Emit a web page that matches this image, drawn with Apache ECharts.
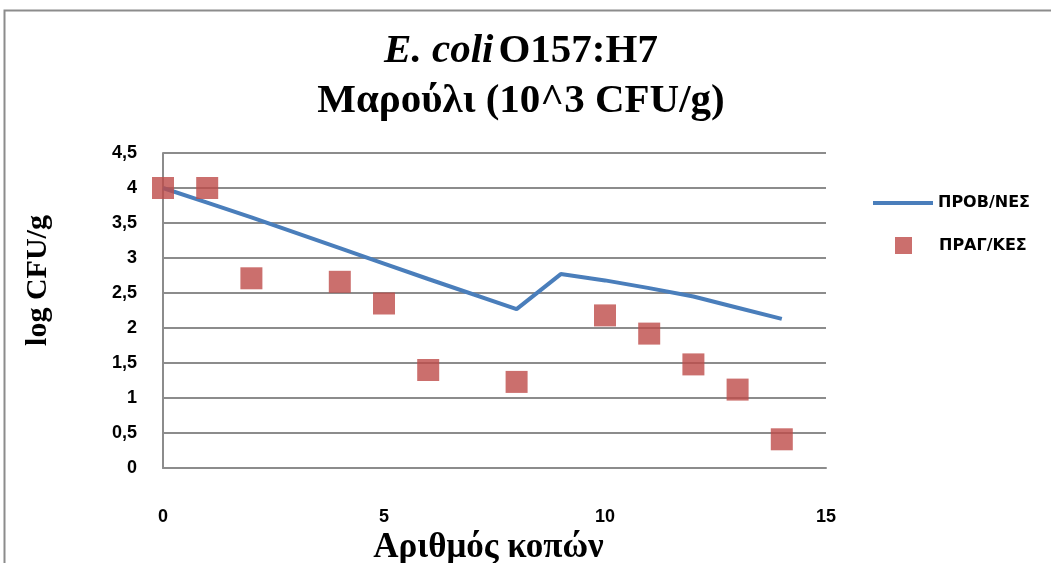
<!DOCTYPE html>
<html>
<head>
<meta charset="utf-8">
<script src="https://cdn.jsdelivr.net/npm/echarts@6/dist/echarts.min.js"></script>
<style>
  html, body { margin: 0; padding: 0; background: #fff; }
  #main { width: 1051px; height: 563px; }
</style>
</head>
<body>
<div id="main"></div>
<script>
// predicted values (line)
var predX = [0, 1, 2, 4, 5, 6, 8, 9, 10, 11, 12, 13, 14];
var predY = [4.0, 3.79, 3.58, 3.14, 2.92, 2.70, 2.27, 2.77, 2.68, 2.57, 2.45, 2.29, 2.13];
// observed values (squares)
var obsX = [0, 1, 2, 4, 5, 6, 8, 10, 11, 12, 13, 14];
var obsY = [4.0, 4.0, 2.71, 2.66, 2.35, 1.40, 1.23, 2.18, 1.92, 1.48, 1.12, 0.41];
var seriesNames = ['ΠΡΟΒ/ΝΕΣ', 'ΠΡΑΓ/ΚΕΣ'];

function pairs(xs, ys) {
    var out = [];
    for (var i = 0; i < xs.length; i++) out.push([xs[i], ys[i]]);
    return out;
}

var myChart = echarts.init(document.getElementById('main'));
var tickFont = { fontFamily: 'Liberation Sans', fontWeight: 'bold', fontSize: 18, color: '#000' };
var legendFont = { fontFamily: 'DejaVu Sans', fontWeight: 'bold', fontSize: 16, color: '#000' };

var option = {
    backgroundColor: '#fff',
    animation: false,
    graphic: [{
        type: 'rect',
        shape: { x: 4.5, y: 10.5, width: 1100, height: 600 },
        style: { fill: 'none', stroke: '#8c8c8c', lineWidth: 2 }
    }],
    title: {
        left: 516,
        textAlign: 'center',
        top: 21,
        text: '{i|E. coli} {n|O157:H7}\n{n|Μαρούλι (10^3 CFU/g)}',
        textStyle: {
            rich: {
                i: { fontFamily: 'Liberation Serif', fontStyle: 'italic', fontWeight: 'bold', fontSize: 41, color: '#000', lineHeight: 50 },
                n: { fontFamily: 'Liberation Serif', fontWeight: 'bold', fontSize: 41, color: '#000', lineHeight: 50 }
            }
        }
    },
    legend: [{
        data: [{ name: seriesNames[0], icon: 'rect' }],
        left: 868,
        top: 190,
        itemWidth: 60,
        itemHeight: 4,
        textStyle: legendFont
    }, {
        data: [{ name: seriesNames[1], icon: 'rect' }],
        left: 890,
        top: 232,
        itemWidth: 17,
        itemHeight: 17,
        textStyle: Object.assign({ padding: [0, 0, 0, 22] }, legendFont)
    }],
    grid: {
        left: 163,
        right: 225,
        top: 153,
        bottom: 95,
        outerBoundsMode: 'none'
    },
    xAxis: {
        type: 'value',
        min: 0,
        max: 15,
        interval: 5,
        name: 'Αριθμός κοπών',
        nameLocation: 'middle',
        nameGap: 42,
        nameTextStyle: { fontFamily: 'Liberation Serif', fontWeight: 'bold', fontSize: 35, color: '#000', padding: [0, 12, 0, 0] },
        axisLine: { show: true, lineStyle: { color: '#8c8c8c', width: 2 } },
        axisTick: { show: false },
        splitLine: { show: false },
        axisLabel: Object.assign({ margin: 40 }, tickFont)
    },
    yAxis: {
        type: 'value',
        min: 0,
        max: 4.5,
        interval: 0.5,
        name: 'log CFU/g',
        nameLocation: 'middle',
        nameGap: 110,
        nameRotate: 90,
        nameTextStyle: { fontFamily: 'Liberation Serif', fontWeight: 'bold', fontSize: 30, color: '#000', padding: [0, 0, 0, 60] },
        axisLine: { show: true, lineStyle: { color: '#8c8c8c', width: 2 } },
        axisTick: { show: false },
        splitLine: { show: true, lineStyle: { color: '#8c8c8c', width: 2 } },
        axisLabel: Object.assign({
            margin: 26,
            formatter: function (v) { return String(v).replace('.', ','); }
        }, tickFont)
    },
    series: [{
        name: seriesNames[0],
        type: 'line',
        data: pairs(predX, predY),
        symbol: 'none',
        lineStyle: { color: '#4a7ebb', width: 4 },
        itemStyle: { color: '#4a7ebb' },
        z: 2
    }, {
        name: seriesNames[1],
        type: 'scatter',
        data: pairs(obsX, obsY),
        symbol: 'rect',
        symbolSize: 22,
        itemStyle: { color: '#be4b48' },
        z: 3
    }]
};
myChart.setOption(option);
</script>
</body>
</html>
